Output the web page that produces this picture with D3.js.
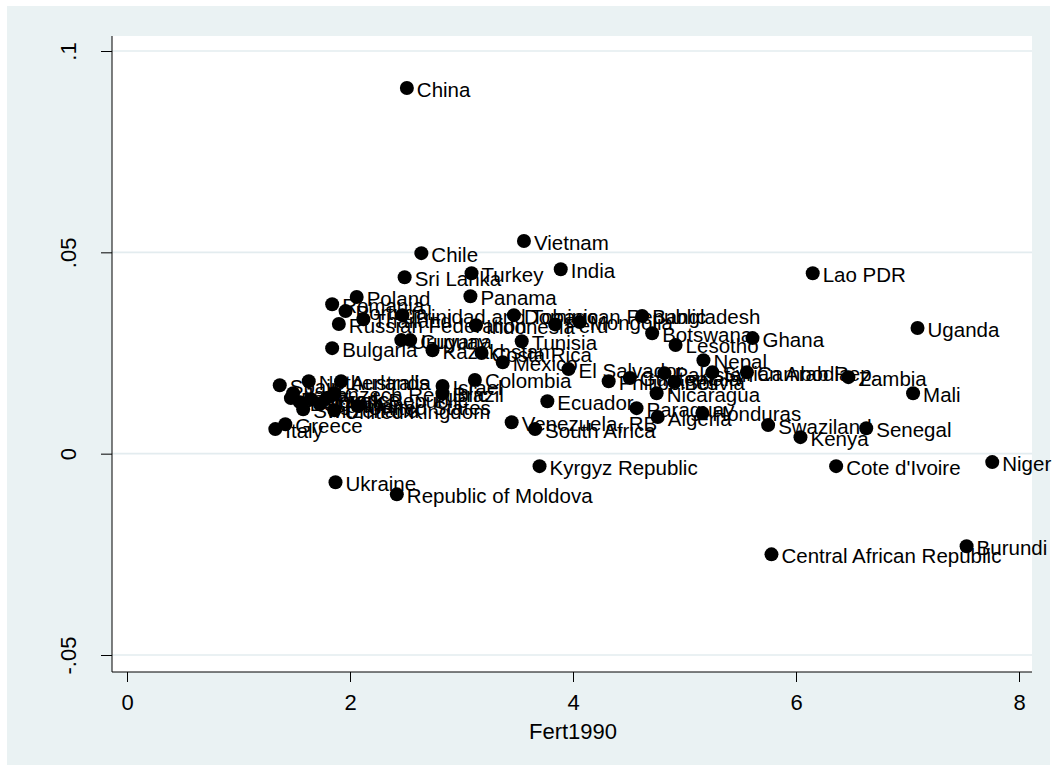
<!DOCTYPE html>
<html>
<head>
<meta charset="utf-8">
<script src="https://cdn.jsdelivr.net/npm/d3@7/dist/d3.min.js"></script>
<style>
  html, body { margin: 0; padding: 0; background: #ffffff; }
  svg { display: block; }
  text { font-family: "Liberation Sans", Arial, Helvetica, sans-serif; fill: #000; }
</style>
</head>
<body>
<svg id="chart" width="1057" height="771"></svg>
<script>
// Country labels, fertility in 1990 (x) and average growth rate (y)
const countries = [
  "China", "Vietnam", "Chile", "India", "Sri Lanka", "Turkey", "Lao PDR",
  "Poland", "Panama", "Romania", "Portugal", "Thailand", "Russian Federation",
  "Trinidad and Tobago", "Indonesia", "Dominican Republic", "Peru", "Mongolia",
  "Bangladesh", "Botswana", "Lesotho", "Ghana", "Uganda", "Bulgaria", "Uruguay",
  "Guyana", "Kazakhstan", "Costa Rica", "Mexico", "Tunisia", "El Salvador",
  "Nepal", "Philippines", "Guatemala", "Pakistan", "Bolivia", "Syrian Arab Rep.",
  "Cambodia", "Zambia", "Nicaragua", "Mali", "Colombia", "Israel", "Brazil",
  "Ecuador", "Paraguay", "Honduras", "Algeria", "Venezuela, RB", "South Africa",
  "Swaziland", "Senegal", "Kenya", "Kyrgyz Republic", "Cote d'Ivoire", "Niger",
  "Ukraine", "Republic of Moldova", "Central African Republic", "Burundi",
  "Italy", "Greece", "Spain", "Netherlands", "Australia", "Japan", "Denmark",
  "Slovak Republic", "Czech Republic", "France", "Belgium", "Germany",
  "Switzerland", "United Kingdom", "United States"
];

const fert1990 = [
  2.51, 3.56, 2.64, 3.89, 2.49, 3.09, 6.15,
  2.06, 3.08, 1.84, 1.96, 2.12, 1.90,
  2.47, 3.13, 3.47, 3.84, 4.06,
  4.62, 4.71, 4.92, 5.61, 7.09, 1.84, 2.46,
  2.54, 2.74, 3.18, 3.37, 3.54, 3.96,
  5.17, 4.32, 4.51, 4.82, 4.91, 5.25,
  5.56, 6.47, 4.75, 7.05, 3.12, 2.83, 2.83,
  3.77, 4.57, 5.16, 4.76, 3.45, 3.66,
  5.75, 6.63, 6.04, 3.70, 6.36, 7.76,
  1.87, 2.42, 5.78, 7.53,
  1.33, 1.42, 1.37, 1.63, 1.92, 1.49, 1.47,
  1.65, 1.86, 1.79, 1.55, 1.73,
  1.58, 1.86, 2.07
];

const growth = [
  0.0908, 0.0528, 0.0498, 0.0458, 0.0438, 0.0448, 0.0448,
  0.0389, 0.0391, 0.0371, 0.0354, 0.0334, 0.0322,
  0.0344, 0.0319, 0.0344, 0.0321, 0.0327,
  0.0342, 0.0299, 0.0270, 0.0287, 0.0312, 0.0262, 0.0282,
  0.0282, 0.0257, 0.0250, 0.0227, 0.0279, 0.0210,
  0.0232, 0.0180, 0.0188, 0.0200, 0.0178, 0.0202,
  0.0202, 0.0190, 0.0150, 0.0150, 0.0183, 0.0168, 0.0150,
  0.0130, 0.0113, 0.0101, 0.0091, 0.0078, 0.0061,
  0.0071, 0.0063, 0.0041, -0.0031, -0.0031, -0.0021,
  -0.0071, -0.0101, -0.0250, -0.0230,
  0.0061, 0.0073, 0.0170, 0.0180, 0.0180, 0.0150, 0.0138,
  0.0135, 0.0150, 0.0138, 0.0128, 0.0123,
  0.0110, 0.0108, 0.0118
];

const xTicks = [0, 2, 4, 6, 8];
const yTicks = [-0.05, 0, 0.05, 0.1];
const yTickLabels = ["-.05", "0", ".05", ".1"];
const xTitle = "Fert1990";

const W = 1057, H = 771;
const bg = "#eaf2f3";
const svg = d3.select("#chart");

// graph region and plot region
svg.append("rect").attr("x", 7).attr("y", 6).attr("width", W - 14).attr("height", H - 12).attr("fill", bg);
const plot = { left: 112, right: 1032, top: 36, bottom: 672 };
svg.append("rect")
  .attr("x", plot.left).attr("y", plot.top)
  .attr("width", plot.right - plot.left).attr("height", plot.bottom - plot.top)
  .attr("fill", "#fff");

const x = d3.scaleLinear().domain([0, 8]).range([127, 1019]);
const y = d3.scaleLinear().domain([-0.05, 0.1]).range([655, 51]);

// horizontal gridlines
svg.append("g").selectAll("line").data(yTicks).join("line")
  .attr("x1", plot.left).attr("x2", plot.right)
  .attr("y1", d => y(d)).attr("y2", d => y(d))
  .attr("stroke", "#e3ecef").attr("stroke-width", 1.6);

// x axis
const xAxis = svg.append("g").attr("transform", `translate(0,${plot.bottom})`)
  .call(d3.axisBottom(x).tickValues(xTicks).tickSize(10).tickPadding(12).tickFormat(d3.format("d")));
xAxis.select(".domain").attr("d", `M${plot.left},0H${plot.right}`).attr("stroke", "#000");
xAxis.selectAll(".tick line").attr("stroke", "#000");
xAxis.selectAll(".tick text").attr("font-size", 22).attr("fill", "#000")
  .attr("font-family", '"Liberation Sans", Arial, sans-serif');

// y axis with rotated labels
const yAxis = svg.append("g").attr("transform", `translate(${plot.left},0)`)
  .call(d3.axisLeft(y).tickValues(yTicks).tickSize(11).tickFormat((d, i) => yTickLabels[i]));
yAxis.select(".domain").attr("d", `M0,${plot.top}V${plot.bottom}`).attr("stroke", "#000");
yAxis.selectAll(".tick line").attr("stroke", "#000");
yAxis.selectAll(".tick text")
  .attr("font-size", 22).attr("fill", "#000")
  .attr("font-family", '"Liberation Sans", Arial, sans-serif')
  .attr("x", null).attr("dy", null)
  .attr("text-anchor", "middle")
  .attr("transform", "translate(-36,0) rotate(-90) translate(0,0)")
  .attr("y", 0);

// x axis title
svg.append("text").attr("x", (x(0) + x(8)) / 2).attr("y", 739)
  .attr("text-anchor", "middle").attr("font-size", 22).text(xTitle);

// markers and labels
const pts = countries.map((c, i) => ({ name: c, fx: fert1990[i], gy: growth[i] }));
const g = svg.append("g");
g.selectAll("circle").data(pts).join("circle")
  .attr("cx", d => x(d.fx)).attr("cy", d => y(d.gy)).attr("r", 7).attr("fill", "#000");
g.selectAll("text").data(pts).join("text")
  .attr("x", d => x(d.fx) + 10).attr("y", d => y(d.gy) + 8.5)
  .attr("font-size", 20.5).text(d => d.name);
</script>
</body>
</html>
